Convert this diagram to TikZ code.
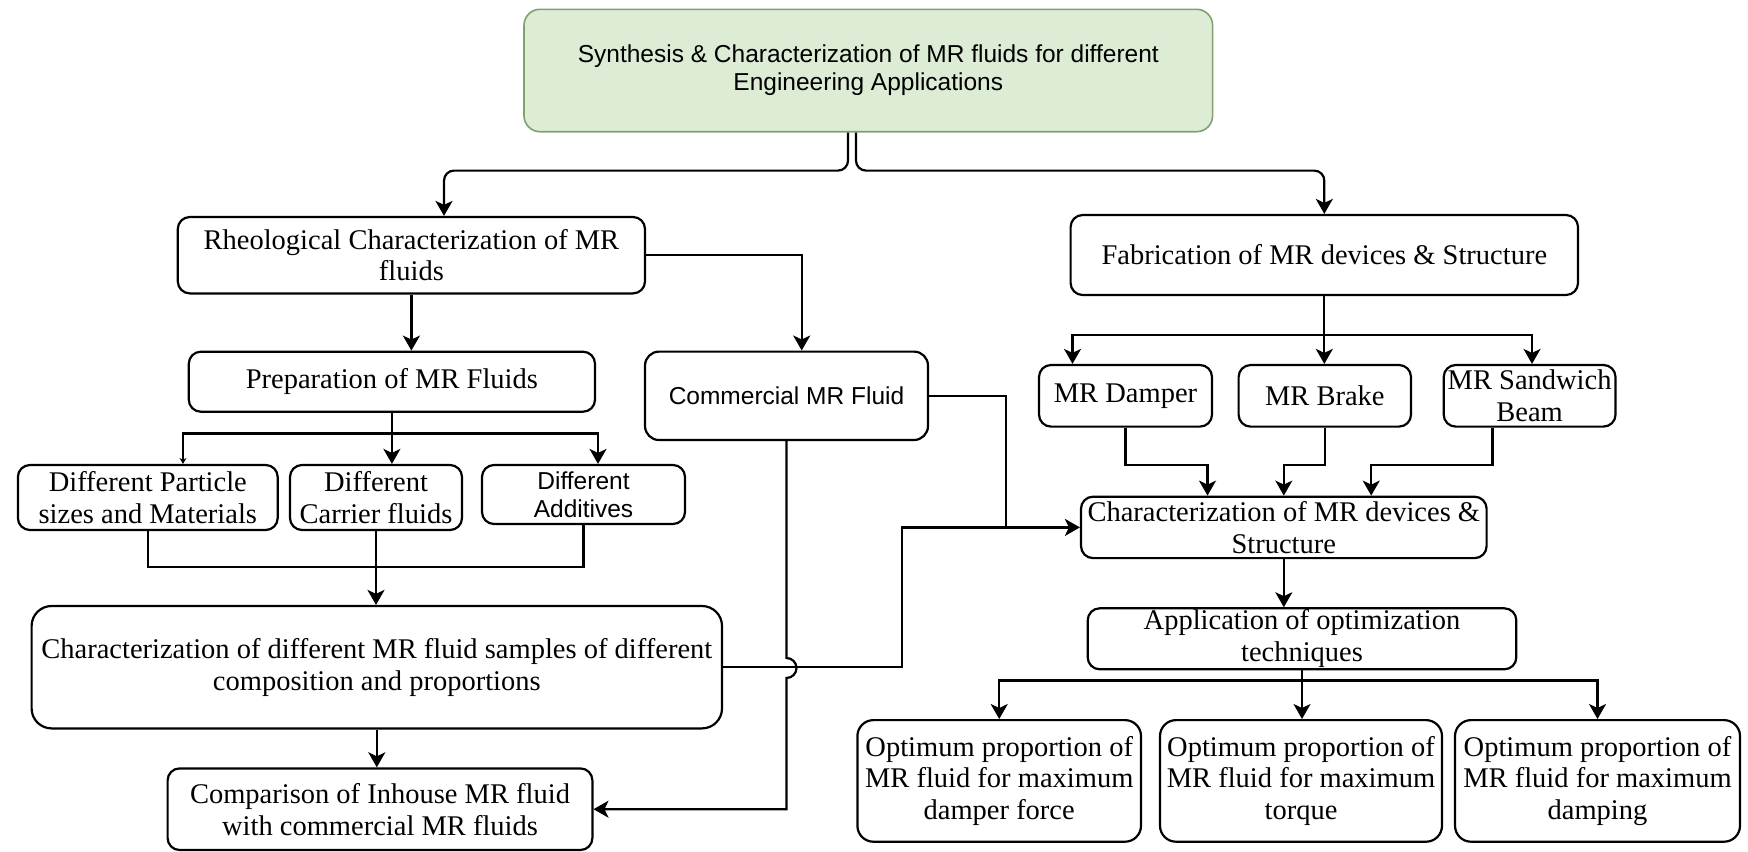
\documentclass[tikz,border=0pt]{standalone}
\usepackage{fontspec}
\setmainfont{Liberation Serif}
\newfontfamily\sansf{Liberation Sans}
\usetikzlibrary{arrows.meta}
\definecolor{topfill}{RGB}{220,236,213}
\definecolor{topdraw}{RGB}{130,160,110}
\begin{document}
\begin{tikzpicture}[x=0.5pt,y=-0.5pt,
  box/.style={draw, line width=1.1pt, rounded corners=6pt, inner sep=0pt, align=center,
    font=\fontsize{14.25}{15.9}\selectfont},
  sbox/.style={box, font=\sansf\fontsize{12.25}{14}\selectfont},
  ln/.style={line width=1.1pt},
  arr/.style={ln, -{Stealth[length=7.5pt,width=8.5pt,inset=2pt]}},
  smallarr/.style={ln, -{Stealth[length=3pt,width=3.5pt]}}]
\useasboundingbox (0,0) rectangle (1748,851);

% nodes
\node[sbox, fill=topfill, draw=topdraw, line width=0.8pt, rounded corners=8pt,
  minimum width=344.3pt, minimum height=61.2pt] (top) at (868.3,70.5)
  {Synthesis \& Characterization of MR fluids for different\\Engineering Applications};
\node[box, minimum width=233.6pt, minimum height=38.2pt] (rheo) at (411.4,255.2)
  {Rheological Characterization of MR\\fluids};
\node[box, minimum width=253.7pt, minimum height=40pt] (fab) at (1324.3,255)
  {Fabrication of MR devices \& Structure};
\node[box, minimum width=203.1pt, minimum height=30pt] (prep) at (391.9,381.7)
  {Preparation of MR Fluids};
\node[sbox, rounded corners=7pt, minimum width=141.5pt, minimum height=44.2pt] (comm) at (786.5,395.8)
  {Commercial MR Fluid};
\node[box, minimum width=86.5pt, minimum height=30.8pt] (damper) at (1125.5,395.8) {MR Damper};
\node[box, minimum width=86.2pt, minimum height=30.8pt] (brake) at (1324.8,395.8) {MR Brake};
\node[box, minimum width=85.9pt, minimum height=30.8pt] (sandwich) at (1529.6,395.8) {MR Sandwich\\Beam};
\node[box, minimum width=129.9pt, minimum height=32.5pt] (particle) at (147.8,497.5)
  {Different Particle\\sizes and Materials};
\node[box, minimum width=86pt, minimum height=32.5pt] (carrier) at (376,497.5)
  {Different\\Carrier fluids};
\node[sbox, minimum width=101.5pt, minimum height=29.5pt] (additives) at (583.5,494.5)
  {Different\\Additives};
\node[box, minimum width=202.8pt, minimum height=30.7pt] (chardev) at (1283.8,527.4)
  {Characterization of MR devices \&\\Structure};
\node[box, rounded corners=10pt, minimum width=345.2pt, minimum height=61.2pt] (charsamp) at (376.8,667.2)
  {Characterization of different MR fluid samples of different\\composition and proportions};
\node[box, minimum width=214.3pt, minimum height=30.5pt] (app) at (1302,638.8)
  {Application of optimization\\techniques};
\node[box, minimum width=212.4pt, minimum height=40.8pt] (comp) at (380,809.2)
  {Comparison of Inhouse MR fluid\\with commercial MR fluids};
\node[box, rounded corners=8pt, minimum width=141.8pt, minimum height=60.8pt] (opt1) at (999.2,780.9)
  {Optimum proportion of\\MR fluid for maximum\\damper force};
\node[box, rounded corners=8pt, minimum width=141pt, minimum height=60.8pt] (opt2) at (1301,780.9)
  {Optimum proportion of\\MR fluid for maximum\\torque};
\node[box, rounded corners=8pt, minimum width=142.5pt, minimum height=60.8pt] (opt3) at (1597.5,780.9)
  {Optimum proportion of\\MR fluid for maximum\\damping};

% helper coordinates
\coordinate (br) at (786.5,668);
\coordinate (jx) at (902.3,527.4);
\coordinate (jy) at (1006,527.4);

% top fork
\draw[arr, rounded corners=5pt] ([xshift=-10.15pt]top.south) |- ([xshift=16.3pt,yshift=22.65pt]rheo.north) -- ([xshift=16.3pt]rheo.north);
\draw[arr, rounded corners=5pt] ([xshift=-6.15pt]top.south) |- ([yshift=21.65pt]fab.north) -- (fab.north);

% left branch
\draw[arr] (rheo.south) -- (rheo.south |- prep.north);
\draw[arr] (rheo.east) -| ([xshift=7.6pt]comm.north);
\draw[arr] (prep.south) -- (prep.south |- carrier.north);
\draw[smallarr] ([yshift=-10.3pt]prep.south) -| ([xshift=17.6pt]particle.north);
\draw[arr] ([yshift=-10.3pt]prep.south) -| ([xshift=7.25pt]additives.north);
\draw[ln] (particle.south) |- ([yshift=-20.85pt]additives.south) -- (additives.south);
\draw[arr] (carrier.south) -- (carrier.south |- charsamp.north);
\draw[arr] (charsamp.south) -- (charsamp.south |- comp.north);
\draw[arr] (comm.south) -- ([yshift=5pt]br) arc[start angle=90,end angle=-90,radius=5pt] |- (comp.east);
\draw[arr] (charsamp.east) -| (jx) -- (chardev.west);
\draw[ln] (comm.east) -| (jy);

% right branch
\draw[arr] (fab.south) -- (fab.south |- brake.north);
\draw[arr] ([yshift=-19.5pt]fab.south) -| ([xshift=-26.5pt]damper.north);
\draw[arr] ([yshift=-19.5pt]fab.south) -| ([xshift=1.2pt]sandwich.north);
\draw[arr] (damper.south) |- ([xshift=-38.15pt,yshift=15.5pt]chardev.north) -- ([xshift=-38.15pt]chardev.north);
\draw[arr] (brake.south) |- ([yshift=15.5pt]chardev.north) -- (chardev.north);
\draw[arr] ([xshift=-18.6pt]sandwich.south) |- ([xshift=43.7pt,yshift=15.5pt]chardev.north) -- ([xshift=43.7pt]chardev.north);
\draw[arr] (chardev.south) -- (chardev.south |- app.north);
\draw[arr] (app.south) -- (app.south |- opt2.north);
\draw[arr] ([yshift=-5pt]app.south) -| (opt1.north);
\draw[arr] ([yshift=-5pt]app.south) -| (opt3.north);
\end{tikzpicture}
\end{document}
